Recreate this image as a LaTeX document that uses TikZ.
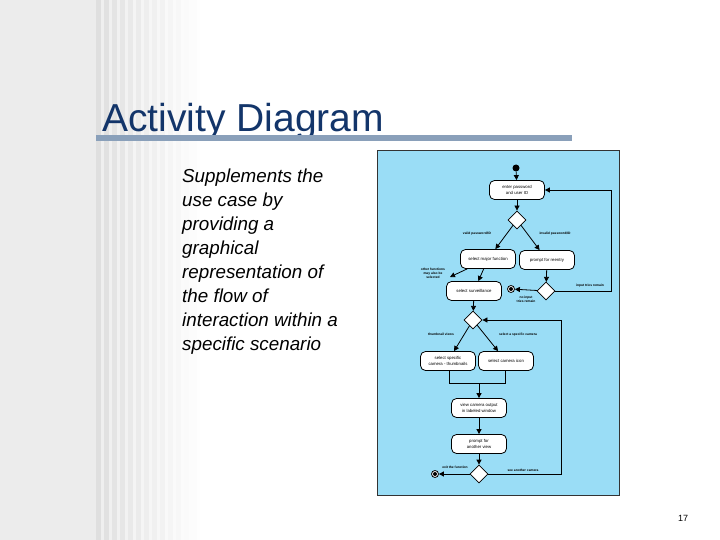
\documentclass[tikz,border=0pt]{standalone}
\usepackage{fontspec}
\setmainfont{Liberation Sans}
\usetikzlibrary{shapes.geometric,arrows.meta}
\definecolor{navy}{HTML}{13356A}
\definecolor{barc}{HTML}{8AA0BA}
\definecolor{panel}{HTML}{9ADDF6}
\begin{document}
\begin{tikzpicture}[x=1pt,y=-1pt,
 act/.style={draw,thick,fill=white,rounded corners=5pt,minimum width=55pt,minimum height=19pt,align=center,font=\fontsize{4.3}{5.3}\selectfont,inner sep=1pt},
 dec/.style={draw,thick,fill=white,diamond,minimum width=18pt,minimum height=18pt,inner sep=0pt},
 lab/.style={font=\bfseries\fontsize{3.3}{3.9}\selectfont,align=center,inner sep=0.5pt},
 ar/.style={-{Triangle[length=5pt,width=5pt]},thick},
 ln/.style={thick}]
\useasboundingbox (0,0) rectangle (720,540);
\fill[white] (0,0) rectangle (720,540);
\fill[gray!15] (0,0) rectangle (96,540);
\foreach \i in {0,...,12}{
  \pgfmathsetmacro{\o}{0.25*(1-\i/13)}
  \fill[gray,opacity=\o] (96+\i*8,0) rectangle (101+\i*8,540);
  \fill[gray,opacity=\o*0.5] (101+\i*8,0) rectangle (104+\i*8,540);
}
\node[anchor=base west,font=\fontsize{39}{39}\selectfont,text=navy,inner sep=0] (title) at (102,132) {Activity Diagram};
\fill[barc] (96,135) rectangle (572,141);
\node[anchor=north west,align=left,font=\itshape\fontsize{18.8}{24}\selectfont,inner sep=0] (txt) at (182,169)
 {Supplements the\\use case by\\providing a\\graphical\\representation of\\the flow of\\interaction within a\\specific scenario};
\node[font=\fontsize{9}{9}\selectfont] (pg) at (683,518) {17};
% panel
\draw[fill=panel,draw=black!80,thick] (377,150) rectangle (619,495);
\node[circle,fill=black,minimum size=7pt,inner sep=0] (st) at (516,168) {};
\node[act] (pw) at (517,190) {enter password\\and user ID};
\node[dec] (d1) at (517,220) {};
\node[act] (mf) at (488,259) {select major function};
\node[act] (pr) at (547,260) {prompt for reentry};
\node[dec] (d2) at (546,291) {};
\node[circle,draw,thick,fill=white,minimum size=7pt,inner sep=0] (e1) at (511,289) {};
\fill (e1) circle (2pt);
\node[act] (sv) at (474,291) {select surveillance};
\node[dec] (d3) at (473,320) {};
\node[act] (sc) at (448,361) {select specific\\camera - thumbnails};
\node[act] (ci) at (506,361) {select camera icon};
\node[act] (vw) at (479,408) {view camera output\\in labeled window};
\node[act] (pa) at (479,444) {prompt for\\another view};
\node[dec] (d4) at (479,474) {};
\node[circle,draw,thick,fill=white,minimum size=7pt,inner sep=0] (e2) at (435,474) {};
\fill (e2) circle (2pt);
\coordinate (of) at (450,277);
\coordinate (ja) at (449,383);
\coordinate (jb) at (505,383);
\coordinate (jm) at (479,383);
\coordinate (r1) at (611,291);
\coordinate (r2) at (611,190);
\coordinate (r3) at (561,474);
\coordinate (r4) at (561,320);
\draw[ar] (st) -- (pw);
\draw[ar] (pw) -- (d1);
\draw[ar] (d1) -- (mf);
\draw[ar] (d1) -- (pr);
\draw[ar] (pr) -- (d2);
\draw[ar] (d2) -- (e1);
\draw[ar] (d2.east) -- (r1) -- (r2) -- (pw.east);
\draw[ar] (mf) -- (of);
\draw[ar] (mf) -- (sv);
\draw[ar] (sv) -- (d3);
\draw[ar] (d3) -- (sc);
\draw[ar] (d3) -- (ci);
\draw[ln] (sc.south -| ja) -- (ja) -- (jb) -- (ci.south -| jb);
\draw[ar] (jm) -- (vw);
\draw[ar] (vw) -- (pa);
\draw[ar] (pa) -- (d4);
\draw[ar] (d4) -- (e2);
\draw[ar] (d4.east) -- (r3) -- (r4) -- (d3.east);
\node[lab] at (477,234) {valid password/ID};
\node[lab] at (555,234) {invalid password/ID};
\node[lab] at (433,273) {other functions\\may also be\\selected};
\node[lab] at (590,286) {input tries remain};
\node[lab] at (526,299) {no input\\tries remain};
\node[lab] at (441,334) {thumbnail views};
\node[lab] at (518,335) {select a specific camera};
\node[lab] at (455,467) {exit the function};
\node[lab] at (523,470) {see another camera};
\end{tikzpicture}
\end{document}
